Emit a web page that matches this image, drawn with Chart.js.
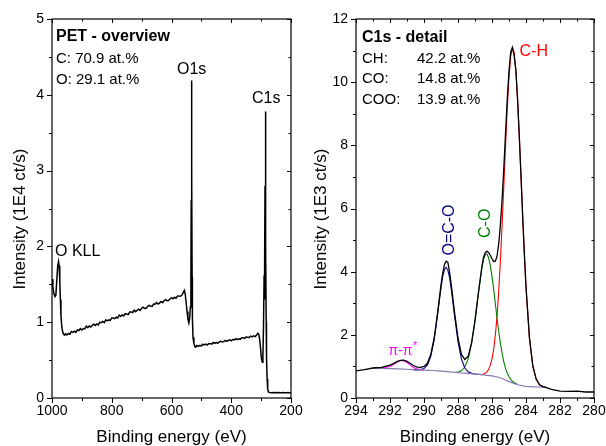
<!DOCTYPE html>
<html>
<head>
<meta charset="utf-8">
<script src="https://cdn.jsdelivr.net/npm/chart.js@4.4.1/dist/chart.umd.min.js"></script>
<style>
  html, body { margin: 0; padding: 0; background: #fff; }
  #wrap { position: relative; width: 606px; height: 446px; }
  #wrap canvas { position: absolute; top: 0; }
</style>
</head>
<body>
<div id="wrap">
  <canvas id="survey" width="303" height="446" style="left:0"></canvas>
  <canvas id="detail" width="303" height="446" style="left:303px"></canvas>
</div>
<script>
/* ---- survey (left): binding energy (eV) / intensity (1E4 ct/s) ---- */
var surveyBE = [
  1000, 997, 994, 990, 987, 984, 981, 978, 976, 974, 972, 970, 967, 964, 961, 958,          // O KLL
  955, 950, 945, 940, 935, 930, 925, 920, 915, 910, 905, 900, 895, 890, 885, 880, 875, 870, 865, 860,
  855, 850, 845, 840, 835, 830, 825, 820, 815, 810, 805, 800, 795, 790, 785, 780, 775, 770, 765, 760,
  755, 750, 745, 740, 735, 730, 725, 720, 715, 710, 705, 700, 695, 690, 685, 680, 675, 670, 665, 660,
  655, 650, 645, 640, 635, 630, 625, 620, 615, 610, 605, 600, 595, 590, 585, 580, 575, 570, 565,
  561, 557, 554, 551, 548, 545, 542, 539, 537, 535, 534, 533, 532, 531, 530, 528, 525, 522, 519, // O1s
  515, 510, 505, 500, 495, 490, 485, 480, 475, 470, 465, 460, 455, 450, 445, 440, 435, 430, 425, 420,
  415, 410, 405, 400, 395, 390, 385, 380, 375, 370, 365, 360, 355, 350, 345, 340, 335, 330, 325, 320, 315,
  311, 308, 305, 302, 299, 296, 294, 292, 290, 289, 288, 287, 286, 285, 284, 283, 282, 280, 278, 276, 273, // C1s
  270, 265, 260, 255, 250, 245, 240, 235, 230, 225, 220, 215, 210, 205, 200
];
var surveyInt = [
  1.57, 1.47, 1.38, 1.34, 1.36, 1.55, 1.74, 1.80, 1.74, 1.55, 1.30, 1.08, 0.93, 0.87, 0.84, 0.83,
  0.846, 0.832, 0.851, 0.841, 0.878, 0.866, 0.882, 0.866, 0.898, 0.890, 0.915, 0.897, 0.916, 0.914, 0.947, 0.929, 0.950, 0.936, 0.960, 0.974,
  0.958, 0.978, 0.965, 0.999, 0.994, 1.010, 0.995, 1.031, 1.017, 1.030, 1.024, 1.056, 1.054, 1.046, 1.065, 1.055, 1.093, 1.078, 1.096, 1.083,
  1.112, 1.107, 1.100, 1.134, 1.134, 1.128, 1.158, 1.139, 1.157, 1.171, 1.156, 1.182, 1.197, 1.182, 1.185, 1.207, 1.221, 1.213, 1.209, 1.239,
  1.238, 1.260, 1.240, 1.252, 1.274, 1.258, 1.283, 1.297, 1.284, 1.286, 1.306, 1.323, 1.308, 1.328, 1.315, 1.346, 1.344, 1.343, 1.359,
  1.39, 1.42, 1.37, 1.26, 1.14, 1.04, 0.99, 1.06, 1.20, 1.60, 2.60, 4.19, 3.00, 1.60, 1.05, 0.80, 0.72, 0.68, 0.67,
  0.693, 0.682, 0.695, 0.686, 0.710, 0.700, 0.710, 0.699, 0.719, 0.717, 0.711, 0.732, 0.722, 0.735, 0.722, 0.740, 0.748, 0.738, 0.744, 0.760,
  0.746, 0.759, 0.768, 0.754, 0.772, 0.767, 0.784, 0.771, 0.782, 0.774, 0.794, 0.794, 0.786, 0.806, 0.800, 0.798, 0.817, 0.807, 0.820, 0.810, 0.830,
  0.855, 0.84, 0.78, 0.66, 0.52, 0.47, 0.55, 0.95, 1.62, 1.30, 1.60, 2.80, 3.78, 3.20, 2.00, 1.00, 0.55, 0.25, 0.12, 0.08, 0.075,
  0.072, 0.068, 0.071, 0.069, 0.072, 0.068, 0.071, 0.070, 0.069, 0.072, 0.070, 0.068, 0.071, 0.069, 0.070
];
var surveyXTicks = { min: 200, max: 1000, step: 200, minor: 100 };
var surveyYTicks = { min: 0, max: 5, step: 1, minor: 0.5 };

/* ---- C1s detail (right): binding energy (eV) / intensity (1E3 ct/s) ---- */
var c1sBE = [
  294.0, 293.5, 293.0, 292.5, 292.0,
  291.8, 291.6, 291.4, 291.2, 291.0, 290.8, 290.6, 290.4, 290.2, 290.0,
  289.8, 289.6, 289.4, 289.2, 289.0, 288.9, 288.8, 288.7, 288.6, 288.5, 288.4, 288.2, 288.0,
  287.8, 287.6, 287.4, 287.2, 287.0, 286.8, 286.6,
  286.5, 286.4, 286.3, 286.2, 286.1, 286.0, 285.9, 285.8, 285.7, 285.6,
  285.5, 285.4, 285.3, 285.2, 285.1, 285.0, 284.9, 284.8, 284.7, 284.6,
  284.5, 284.4, 284.3, 284.2, 284.1, 284.0,
  283.8, 283.6, 283.4, 283.2, 283.0, 282.8,
  282.5, 282.0, 281.5, 281.0, 280.5, 280.0
];
var c1sMeasured = [
  0.86, 0.90, 0.95, 0.97, 1.04,
  1.09, 1.15, 1.19, 1.20, 1.16, 1.09, 1.02, 0.98, 0.97, 1.00,
  1.10, 1.38, 1.90, 2.70, 3.58, 3.95, 4.22, 4.33, 4.30, 4.00, 3.60, 2.70, 1.90,
  1.38, 1.22, 1.32, 1.75, 2.46, 3.33, 4.14,
  4.45, 4.60, 4.65, 4.60, 4.52, 4.41, 4.32, 4.33, 4.50, 4.90,
  5.52, 6.35, 7.33, 8.42, 9.50, 10.35, 10.95, 11.10, 10.85, 10.40,
  9.50, 8.35, 7.10, 5.82, 4.60, 3.52,
  1.92, 1.02, 0.60, 0.42, 0.36, 0.33,
  0.27, 0.22, 0.21, 0.22, 0.19, 0.19
];
var bgBE  = [293.0, 292.5, 292.0, 291.5, 291.0, 290.5, 290.0, 289.5, 289.0, 288.5, 288.0, 287.5,
             287.0, 286.5, 286.0, 285.5, 285.2, 285.0, 284.8, 284.5, 284.0, 283.5, 283.0, 282.8];
var bgFit = [0.95, 0.94, 0.93, 0.92, 0.91, 0.89, 0.88, 0.87, 0.85, 0.83, 0.80, 0.78,
             0.76, 0.73, 0.70, 0.64, 0.57, 0.52, 0.48, 0.42, 0.37, 0.35, 0.34, 0.34];
var pipiBE  = [293.0, 292.5, 292.0, 291.8, 291.6, 291.4, 291.2, 291.0, 290.8, 290.6, 290.4, 290.2, 290.0];
var pipiFit = [0.95, 0.945, 1.00, 1.06, 1.13, 1.18, 1.18, 1.12, 1.04, 0.96, 0.92, 0.89, 0.88];
var ocoBE  = [290.6, 290.4, 290.2, 290.0, 289.8, 289.6, 289.4, 289.2, 289.0, 288.9, 288.8, 288.7,
              288.6, 288.5, 288.4, 288.2, 288.0, 287.8, 287.6, 287.4, 287.2, 287.0, 286.8, 286.6];
var ocoFit = [0.89, 0.89, 0.90, 0.93, 1.04, 1.32, 1.85, 2.64, 3.49, 3.84, 4.06, 4.14,
              4.05, 3.82, 3.46, 2.59, 1.78, 1.24, 0.95, 0.83, 0.78, 0.76, 0.75, 0.74];
var coBE  = [288.2, 288.0, 287.8, 287.6, 287.4, 287.2, 287.0, 286.8, 286.6, 286.5, 286.4, 286.3, 286.2, 286.1, 286.0,
             285.9, 285.8, 285.7, 285.6, 285.5, 285.4, 285.3, 285.2, 285.1, 285.0, 284.9, 284.8, 284.7, 284.6, 284.5];
var coFit = [0.81, 0.82, 0.86, 0.98, 1.24, 1.72, 2.44, 3.31, 4.10, 4.38, 4.54, 4.56, 4.44, 4.20, 3.85,
             3.43, 2.97, 2.51, 2.09, 1.72, 1.40, 1.13, 0.93, 0.78, 0.67, 0.59, 0.53, 0.49, 0.46, 0.43];
var chBE  = [286.6, 286.5, 286.4, 286.3, 286.2, 286.1, 286.0, 285.9, 285.8, 285.7, 285.6, 285.5, 285.4, 285.3, 285.2, 285.1, 285.0,
             284.9, 284.8, 284.7, 284.6, 284.5, 284.4, 284.3, 284.2, 284.1, 284.0, 283.8, 283.6, 283.4, 283.2, 283.0, 282.8];
var chFit = [0.75, 0.76, 0.78, 0.83, 0.90, 1.04, 1.24, 1.55, 2.01, 2.61, 3.42, 4.41, 5.54, 6.77, 8.03, 9.19, 10.16,
             10.82, 11.09, 10.95, 10.39, 9.50, 8.37, 7.10, 5.81, 4.59, 3.52, 1.92, 1.01, 0.59, 0.41, 0.36, 0.34];
var c1sXTicks = { min: 280, max: 294, step: 2, minor: 1 };
var c1sYTicks = { min: 0, max: 12, step: 2, minor: 1 };

var FONT = '"Liberation Sans", Arial, Helvetica, sans-serif';
var RED = '#ff0000', GREEN = '#008000', NAVY = '#000080', MAGENTA = '#ff00ff';

function pts(xs, ys) {
  return xs.map(function (x, i) { return { x: x, y: ys[i] }; });
}

function line(data, color, width) {
  return { data: data, borderColor: color, borderWidth: width, pointRadius: 0, fill: false, tension: 0 };
}

function axis(t, isX, size) {
  return {
    type: 'linear', min: t.min, max: t.max, reverse: isX,
    grid: { display: false, drawTicks: false },
    border: { display: false },
    ticks: {
      stepSize: t.step, autoSkip: false, maxRotation: 0, padding: isX ? 5 : 8,
      color: '#000', font: { family: FONT, size: 14 },
      callback: function (v) { return String(v); }
    },
    afterFit: function (s) {
      if (isX) { s.height = size; s.paddingLeft = 0; s.paddingRight = 0; }
      else { s.width = size; s.paddingTop = 0; s.paddingBottom = 0; }
    }
  };
}

/* frame + Origin-style ticks: out on bottom/left, in on top/right, minor halfway */
function framePlugin(xt, yt) {
  return {
    id: 'frame',
    afterDraw: function (chart) {
      var ctx = chart.ctx, a = chart.chartArea, sx = chart.scales.x, sy = chart.scales.y;
      ctx.save();
      ctx.strokeStyle = '#000';
      ctx.lineWidth = 1.2;
      ctx.strokeRect(a.left, a.top, a.right - a.left, a.bottom - a.top);
      ctx.beginPath();
      var i, n, v, p, major;
      n = Math.round((xt.max - xt.min) / xt.minor);
      for (i = 0; i <= n; i++) {
        v = xt.min + i * xt.minor;
        major = Math.abs(v / xt.step - Math.round(v / xt.step)) < 1e-6;
        p = Math.round(sx.getPixelForValue(v)) + 0.5;
        ctx.moveTo(p, a.bottom); ctx.lineTo(p, a.bottom + (major ? 5 : 3));
        ctx.moveTo(p, a.top); ctx.lineTo(p, a.top + (major ? 4 : 2.5));
      }
      n = Math.round((yt.max - yt.min) / yt.minor);
      for (i = 0; i <= n; i++) {
        v = yt.min + i * yt.minor;
        major = Math.abs(v / yt.step - Math.round(v / yt.step)) < 1e-6;
        p = Math.round(sy.getPixelForValue(v)) + 0.5;
        ctx.moveTo(a.left, p); ctx.lineTo(a.left - (major ? 5 : 3), p);
        ctx.moveTo(a.right, p); ctx.lineTo(a.right - (major ? 4 : 2.5), p);
      }
      ctx.lineWidth = 1;
      ctx.stroke();
      ctx.restore();
    }
  };
}

function notesPlugin(items) {
  return {
    id: 'notes',
    afterDraw: function (chart) {
      var ctx = chart.ctx;
      items.forEach(function (t) {
        ctx.save();
        ctx.font = (t.bold ? 'bold ' : '') + t.size + 'px ' + FONT;
        ctx.fillStyle = t.color || '#000';
        ctx.textAlign = t.align || 'left';
        ctx.textBaseline = t.base || 'alphabetic';
        ctx.translate(t.x, t.y);
        if (t.rot) ctx.rotate(t.rot);
        ctx.fillText(t.text, 0, 0);
        if (t.sup) {
          var w = ctx.measureText(t.text).width;
          ctx.font = '11px ' + FONT;
          ctx.fillText(t.sup, w + 0.5, -6);
        }
        ctx.restore();
      });
    }
  };
}

var UP = -Math.PI / 2;

var surveyNotes = [
  { text: 'PET - overview', x: 56, y: 40.5, size: 16, bold: true },
  { text: 'C: 70.9 at.%', x: 56, y: 62.5, size: 15 },
  { text: 'O: 29.1 at.%', x: 56, y: 83.5, size: 15 },
  { text: 'O1s', x: 177, y: 73.5, size: 16 },
  { text: 'C1s', x: 252, y: 102.5, size: 16 },
  { text: 'O KLL', x: 55, y: 256, size: 16 },
  { text: 'Intensity (1E4 ct/s)', x: 20, y: 219, size: 17, rot: UP, align: 'center', base: 'middle' },
  { text: 'Binding energy (eV)', x: 171.5, y: 442, size: 17, align: 'center' }
];

var c1sNotes = [
  { text: 'C1s - detail', x: 59, y: 41.7, size: 16, bold: true },
  { text: 'CH:', x: 59, y: 62.7, size: 15 },
  { text: '42.2 at.%', x: 114, y: 62.7, size: 15 },
  { text: 'CO:', x: 59, y: 83.3, size: 15 },
  { text: '14.8 at.%', x: 114, y: 83.3, size: 15 },
  { text: 'COO:', x: 59, y: 104, size: 15 },
  { text: '13.9 at.%', x: 114, y: 104, size: 15 },
  { text: 'C-H', x: 216.5, y: 55.7, size: 16, color: RED },
  { text: 'O=C-O', x: 150.5, y: 230, size: 16, color: NAVY, rot: UP, align: 'center' },
  { text: 'C-O', x: 187, y: 223.3, size: 16, color: GREEN, rot: UP, align: 'center' },
  { text: '\u03c0-\u03c0', x: 85.5, y: 354.5, size: 14, color: MAGENTA, sup: '*' },
  { text: 'Intensity (1E3 ct/s)', x: 18.5, y: 219, size: 17, rot: UP, align: 'center', base: 'middle' },
  { text: 'Binding energy (eV)', x: 172, y: 442, size: 17, align: 'center' }
];

function baseOptions(xt, yt, yWidth) {
  return {
    responsive: false, animation: false, devicePixelRatio: 1, events: [],
    layout: { padding: { top: 19, right: 12, left: 0, bottom: 0 } },
    plugins: { legend: { display: false }, tooltip: { enabled: false } },
    scales: { x: axis(xt, true, 48), y: axis(yt, false, yWidth) }
  };
}

new Chart(document.getElementById('survey'), {
  type: 'line',
  data: { datasets: [line(pts(surveyBE, surveyInt), '#000', 1.5)] },
  options: baseOptions(surveyXTicks, surveyYTicks, 52),
  plugins: [framePlugin(surveyXTicks, surveyYTicks), notesPlugin(surveyNotes)]
});

/* first dataset is drawn on top */
new Chart(document.getElementById('detail'), {
  type: 'line',
  data: {
    datasets: [
      line(pts(c1sBE, c1sMeasured), '#000', 1.3),
      line(pts(bgBE, bgFit), '#8a78b4', 1.2),
      line(pts(pipiBE, pipiFit), MAGENTA, 1.1),
      line(pts(ocoBE, ocoFit), NAVY, 1.1),
      line(pts(coBE, coFit), GREEN, 1.1),
      line(pts(chBE, chFit), RED, 1.1)
    ]
  },
  options: baseOptions(c1sXTicks, c1sYTicks, 53),
  plugins: [framePlugin(c1sXTicks, c1sYTicks), notesPlugin(c1sNotes)]
});
</script>
</body>
</html>
